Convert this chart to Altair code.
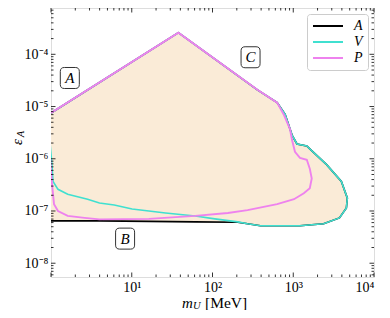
import altair as alt
import pandas as pd

# ---------------- data ----------------
X_DOMAIN = [1.0, 1.0e4]
Y_DOMAIN = [5.45e-9, 7.7e-4]

# shared upper boundary (left edge -> peak -> descending edge)
TOP_M = [1.0, 37.8, 360.0, 632.0]
TOP_E = [7.53e-6, 2.60e-4, 2.09e-5, 1.19e-5]

# V (and A) right side, down to the bottom
V_RIGHT_M = [793, 966, 1112, 1472, 1603, 2588, 3945, 4677, 4550, 3733, 2377, 1211, 632, 392, 272]
V_RIGHT_E = [7.06e-6, 2.84e-6, 1.92e-6, 1.76e-6, 1.55e-6, 7.71e-7, 3.68e-7, 1.76e-7, 1.14e-7,
             7.38e-8, 5.69e-8, 5.21e-8, 5.21e-8, 5.21e-8, 5.69e-8]

# V lower branch going left
V_LEFT_M = [205, 107, 61.1, 26.2, 16.3, 10.1, 6.07, 3.98, 2.84, 1.61, 1.22, 1.06, 1.02, 0.97]
V_LEFT_E = [6.19e-8, 7.06e-8, 8.05e-8, 9.16e-8, 1.0e-7, 1.09e-7, 1.30e-7, 1.42e-7, 1.68e-7,
            2.09e-7, 2.60e-7, 3.68e-7, 8.77e-7, 2.09e-6]

# A lower branch going left
A_BOTTOM_M = [205, 61.1, 16.3, 3.98, 1.0, 0.95]
A_BOTTOM_E = [6.07e-8, 6.19e-8, 6.34e-8, 6.47e-8, 6.47e-8, 6.6e-8]

# P right side and lower branch
P_RIGHT_M = [771, 912, 966, 1050, 1211, 1472, 1603, 1694, 1603, 1352, 1021, 632, 272, 155,
             61.1, 16.3, 3.98, 2.61, 1.61, 1.22, 1.09, 1.03, 1.0, 0.98]
P_RIGHT_E = [6.76e-6, 3.68e-6, 2.28e-6, 1.36e-6, 1.04e-6, 9.57e-7, 6.47e-7, 4.2e-7, 2.72e-7,
             2.19e-7, 1.68e-7, 1.35e-7, 1.04e-7, 9.16e-8, 8.05e-8, 7.06e-8, 6.92e-8, 7.38e-8,
             8.05e-8, 1.0e-7, 1.35e-7, 3.23e-7, 5.69e-7, 1.0e-6]

SERIES = ["A", "V", "P"]
COLORS = ["black", "#40E0D0", "#EE82EE"]
WIDTHS = [1.6, 1.6, 1.9]
FILL = "#FAEBD7"

REGION_LABELS = ["A", "B", "C"]
REGION_M = [1.71, 8.27, 296.0]
REGION_E = [3.52e-5, 2.96e-8, 8.78e-5]

X_TICKS = [10, 100, 1000, 10000]
Y_TICKS = [1e-8, 1e-7, 1e-6, 1e-5, 1e-4]
X_MAJOR = [1, 10, 100, 1000, 10000]
X_MINOR = [k * 10 ** d for d in range(0, 4) for k in range(2, 10)]
Y_MAJOR = [1e-8, 1e-7, 1e-6, 1e-5, 1e-4]
Y_MINOR = [k * 10.0 ** d for d in range(-9, -3) for k in range(2, 10)
           if Y_DOMAIN[0] < k * 10.0 ** d < Y_DOMAIN[1]]

# ---------------- layout ----------------
W, H = 323, 269
SERIF = "Liberation Serif"

xs = alt.Scale(type="log", domain=X_DOMAIN, nice=False)
ys = alt.Scale(type="log", domain=Y_DOMAIN, nice=False)


def path_df(ms, es, name):
    return pd.DataFrame({"m": ms, "e": es, "i": list(range(len(ms))), "s": name})


a_df = path_df(TOP_M + V_RIGHT_M + A_BOTTOM_M, TOP_E + V_RIGHT_E + A_BOTTOM_E, "A")
v_df = path_df(TOP_M + V_RIGHT_M + V_LEFT_M, TOP_E + V_RIGHT_E + V_LEFT_E, "V")
p_df = path_df(TOP_M + P_RIGHT_M, TOP_E + P_RIGHT_E, "P")
fill_df = path_df(TOP_M + V_RIGHT_M + A_BOTTOM_M[:-1], TOP_E + V_RIGHT_E + A_BOTTOM_E[:-1], "fill")

x_label = ("datum.value < 50 ? '10\u00b9' : datum.value < 500 ? '10\u00b2' : "
           "datum.value < 5000 ? '10\u00b3' : '10\u2074'")
y_label = ("datum.value < 5e-8 ? '10\u207b\u2078' : datum.value < 5e-7 ? '10\u207b\u2077' : "
           "datum.value < 5e-6 ? '10\u207b\u2076' : datum.value < 5e-5 ? '10\u207b\u2075' : '10\u207b\u2074'")

fill_layer = alt.Chart(fill_df).mark_line(
    fill=FILL, strokeOpacity=0, clip=True
).encode(
    x=alt.X("m:Q", scale=xs, axis=alt.Axis(values=X_TICKS, labelExpr=x_label, title=None, ticks=False,
                                          domain=False, grid=False, labelFont=SERIF, labelFontSize=14,
                                          labelPadding=3, labelColor="black")),
    y=alt.Y("e:Q", scale=ys, axis=alt.Axis(values=Y_TICKS, labelExpr=y_label, title=None, ticks=False,
                                          domain=False, grid=False, labelFont=SERIF, labelFontSize=14,
                                          labelPadding=3, labelColor="black")),
    order="i:Q",
)

# legend line sample: a thin horizontal path, 30 px long with size 144
LEGEND_LINE = "M -1 0 L 4 0"
color = alt.Color("s:N", scale=alt.Scale(domain=SERIES, range=COLORS),
                  legend=alt.Legend(orient="top-right", offset=6, title=None, symbolType=LEGEND_LINE,
                                    symbolStrokeWidth=2, symbolSize=144, labelFont=SERIF,
                                    labelFontStyle="italic", labelFontSize=14, labelColor="black",
                                    strokeColor="#cccccc", fillColor="white", cornerRadius=3,
                                    padding=5, rowPadding=2, labelOffset=28))


def line_layer(df, w):
    return alt.Chart(df).mark_line(strokeWidth=w, clip=True).encode(
        x=alt.X("m:Q", scale=xs), y=alt.Y("e:Q", scale=ys), order="i:Q", color=color)


def xticks(vals, y0, y1):
    return alt.Chart(pd.DataFrame({"v": vals})).mark_rule(color="black", strokeWidth=0.8).encode(
        x=alt.X("v:Q", scale=xs), y=alt.value(y0), y2=alt.value(y1))


def yticks(vals, x0, x1):
    return alt.Chart(pd.DataFrame({"v": vals})).mark_rule(color="black", strokeWidth=0.8).encode(
        y=alt.Y("v:Q", scale=ys), x=alt.value(x0), x2=alt.value(x1))


MAJ, MIN = 4.5, 2.5
ticks = [
    xticks(X_MAJOR, H, H - MAJ), xticks(X_MINOR, H, H - MIN),
    xticks(X_MAJOR, 0, MAJ), xticks(X_MINOR, 0, MIN),
    yticks(Y_MAJOR, 0, MAJ), yticks(Y_MINOR, 0, MIN),
    yticks(Y_MAJOR, W, W - MAJ), yticks(Y_MINOR, W, W - MIN),
]

region_df = pd.DataFrame({"m": REGION_M, "e": REGION_E, "t": REGION_LABELS})
BOX = ("M -0.52 -1 L 0.52 -1 Q 0.905 -1 0.905 -0.62 L 0.905 0.62 Q 0.905 1 0.52 1 "
       "L -0.52 1 Q -0.905 1 -0.905 0.62 L -0.905 -0.62 Q -0.905 -1 -0.52 -1 Z")
boxes = alt.Chart(region_df).mark_point(
    shape=BOX, size=441, filled=True, fill="white", stroke="#333333", strokeWidth=1, opacity=1
).encode(x=alt.X("m:Q", scale=xs), y=alt.Y("e:Q", scale=ys))
box_text = alt.Chart(region_df).mark_text(
    font=SERIF, fontStyle="italic", fontSize=15, align="center", baseline="middle", color="black"
).encode(x=alt.X("m:Q", scale=xs), y=alt.Y("e:Q", scale=ys), text="t:N")

one = pd.DataFrame({"k": [0]})


def label(txt, x, y, size, italic=False, angle=0, align="left"):
    kw = dict(text=txt, font=SERIF, fontSize=size, align=align, baseline="middle", color="black")
    if italic:
        kw["fontStyle"] = "italic"
    if angle:
        kw["angle"] = angle
    return alt.Chart(one).mark_text(**kw).encode(x=alt.value(x), y=alt.value(y))


titles = [
    label("m", 131, 295, 15, italic=True),
    label("U", 142, 298, 10.5, italic=True),
    label("[MeV]", 154, 295, 15.5),
    label("\u03b5", -34, 134, 15, italic=True, angle=270, align="center"),
    label("A", -30, 126, 10.5, italic=True, angle=270, align="center"),
]

chart = alt.layer(
    fill_layer,
    line_layer(a_df, WIDTHS[0]), line_layer(v_df, WIDTHS[1]), line_layer(p_df, WIDTHS[2]),
    *ticks, boxes, box_text, *titles
).properties(
    width=W, height=H,
    autosize=alt.AutoSizeParams(type="none"),
    padding={"left": 43, "top": 0, "right": 8, "bottom": 33},
).configure_view(stroke="black", strokeWidth=1).configure(background="white")

chart.save("out.html", embed_options={"renderer": "svg", "actions": False})
